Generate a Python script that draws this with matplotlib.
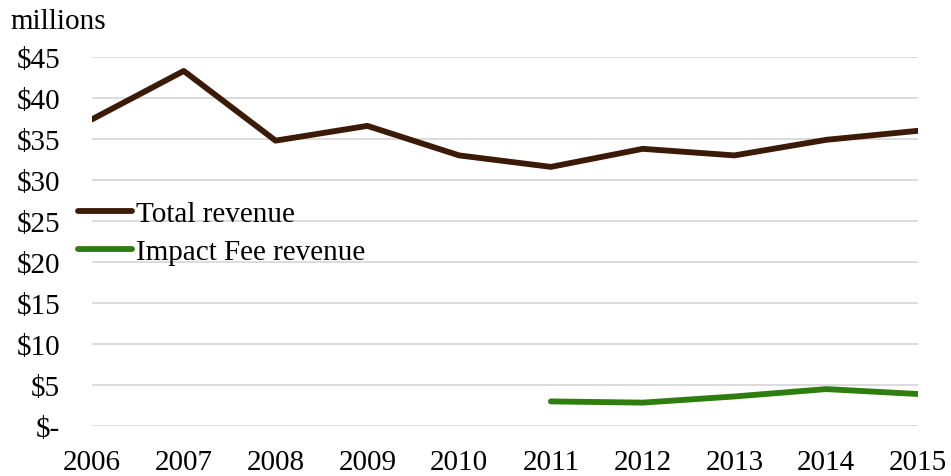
import numpy as np
import matplotlib
matplotlib.use('Agg')
import matplotlib.pyplot as plt
from matplotlib.ticker import FuncFormatter

years = [2006, 2007, 2008, 2009, 2010, 2011, 2012, 2013, 2014, 2015]
total_revenue = [37.4, 43.3, 34.8, 36.6, 33.0, 31.6, 33.8, 33.0, 34.9, 36.0]
impact_years = [2011, 2012, 2013, 2014, 2015]
impact_revenue = [3.0, 2.85, 3.6, 4.5, 3.9]
yticks = [0, 5, 10, 15, 20, 25, 30, 35, 40, 45]

plt.rcParams['font.family'] = ['Liberation Serif', 'DejaVu Serif']
fs = 21

fig = plt.figure(figsize=(9.51, 4.77), dpi=100)
ax = fig.add_axes([92/951, 1-427/477, (918-92)/951, (427-58)/477])

for y in yticks:
	ax.axhline(y, color='#d9d9d9', lw=1.3, zorder=0)

ax.plot(years, total_revenue, color='#3b1a08', lw=4.2, solid_capstyle='round', label='Total revenue')
ax.plot(impact_years, impact_revenue, color='#2e7d0f', lw=4.2, solid_capstyle='round', label='Impact Fee revenue')

ax.set_xlim(2006, 2015)
ax.set_ylim(0, 45)
ax.set_xticks(years)
ax.set_yticks(yticks)

def fmt(v, pos):
	if v == 0:
		return '$-'
	return '$%d' % v

ax.yaxis.set_major_formatter(FuncFormatter(fmt))
for s in ax.spines.values():
	s.set_visible(False)
ax.tick_params(axis='both', length=0, labelsize=fs, colors='black')
ax.tick_params(axis='y', pad=23)
ax.tick_params(axis='x', pad=16.5)
for lab in ax.get_yticklabels():
	lab.set_horizontalalignment('right')

fig.text(10/951, 1-22/477, 'millions', fontsize=fs, va='center', ha='left')

fig.legend(loc='upper left', bbox_to_anchor=(78/951, 1-202/477), frameon=False,
	fontsize=fs, handlelength=1.85, handletextpad=0.14, labelspacing=0.4, borderaxespad=0, borderpad=0)

fig.savefig('out.png', dpi=100)
